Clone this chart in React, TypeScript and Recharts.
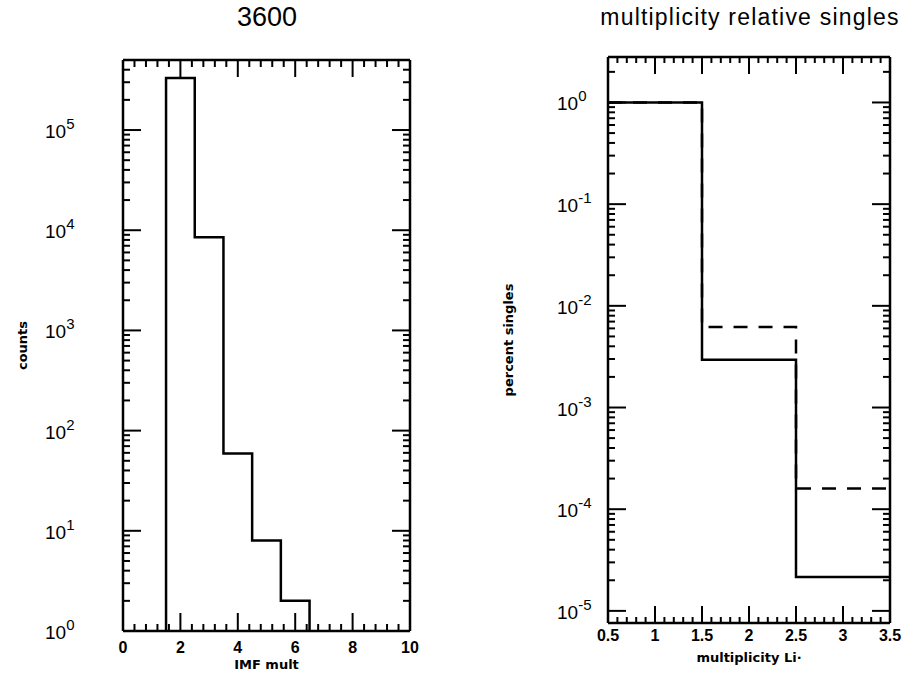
import { LineChart, Line, XAxis, YAxis } from "recharts"

// IMF multiplicity histogram (left panel)
const imfEdges = [1.5, 2.5, 3.5, 4.5, 5.5, 6.5]
const imfCounts = [330000, 8500, 59, 8, 2]

// Li multiplicity relative to singles (right panel)
const liEdges = [0.5, 1.5, 2.5, 3.5]
const liSolid = [1, 0.00295, 0.0000215]
const liDashed = [1, 0.0062, 0.00016]

const imfXMajor = [0, 2, 4, 6, 8, 10]
const liXMajor = [0.5, 1, 1.5, 2, 2.5, 3, 3.5]
const countDecades = [1, 10, 100, 1000, 10000, 100000]
const singlesDecades = [0.00001, 0.0001, 0.001, 0.01, 0.1, 1]

const FONT = "'Liberation Sans', Arial, sans-serif"

const imfData = [
  { x: imfEdges[0], y: 1 },
  ...imfCounts.map((c, i) => ({ x: imfEdges[i], y: c })),
  { x: imfEdges[imfEdges.length - 1], y: 1 },
]

const liData = liEdges.map((x, i) => ({
  x,
  solid: liSolid[Math.min(i, liSolid.length - 1)],
  dashed: liDashed[Math.min(i, liDashed.length - 1)],
}))

function linearTicks(major: number[], sub: number) {
  const out: number[] = []
  for (let i = 0; i < major.length - 1; i++) {
    const step = (major[i + 1] - major[i]) / sub
    for (let k = 0; k < sub; k++) out.push(Math.round((major[i] + k * step) * 1000) / 1000)
  }
  out.push(major[major.length - 1])
  return out
}

function logTicks(decades: number[], max: number) {
  const out: number[] = []
  decades.forEach((d) => {
    for (let m = 1; m <= 9; m++) {
      const v = d * m
      if (v <= max) out.push(v)
    }
  })
  return out
}

const imfXTicks = linearTicks(imfXMajor, 5)
const liXTicks = linearTicks(liXMajor, 5)
const countTicks = logTicks(countDecades, 500000)
const singlesTicks = logTicks(singlesDecades, 2.8)

function XTick(props: any) {
  const { x, y, payload, side, majors, majorLen, minorLen, label, dy } = props
  const v = payload.value
  const major = majors.includes(v)
  const len = major ? majorLen : minorLen
  const dir = side === "bottom" ? -1 : 1
  return (
    <g>
      <line x1={x} y1={y} x2={x} y2={y + dir * len} stroke="#000" strokeWidth={2} />
      {label && major && (
        <text x={x} y={y + dy} textAnchor="middle" fontFamily={FONT} fontWeight="bold" fontSize={16} fill="#000">
          {String(v)}
        </text>
      )}
    </g>
  )
}

function YTick(props: any) {
  const { x, y, payload, side, decades, label, dx } = props
  const v = payload.value
  const major = decades.includes(v)
  const len = major ? 18 : 7
  const dir = side === "left" ? 1 : -1
  const exp = Math.round(Math.log10(v))
  return (
    <g>
      <line x1={x} y1={y} x2={x + dir * len} y2={y} stroke="#000" strokeWidth={2} />
      {label && major && (
        <text x={x - dx} y={y + 8} textAnchor="start" fontFamily={FONT} fontSize={19} fill="#000">
          10
          <tspan dy={-9} fontSize={15}>{exp}</tspan>
        </text>
      )}
    </g>
  )
}

const axisLine = { stroke: "#000", strokeWidth: 2.5 }
const axisTitle = { fontFamily: "'DejaVu Sans'", fontWeight: "bold", fontSize: 13, fill: "#000", textAnchor: "middle" }

function ImfPanel() {
  return (
    <LineChart width={460} height={681} data={imfData} margin={{ top: 59, right: 49, bottom: 0, left: 0 }}>
      <XAxis
        xAxisId="b" dataKey="x" type="number" domain={[0, 10]} ticks={imfXTicks} interval={0}
        allowDataOverflow height={50} tickSize={0} tickMargin={0} tickLine={false} axisLine={axisLine}
        tick={(p: any) => <XTick {...p} side="bottom" majors={imfXMajor} majorLen={18} minorLen={7} label dy={22} />}
        label={{ value: "IMF mult", position: "insideBottom", offset: 12, ...axisTitle }}
      />
      <XAxis
        xAxisId="t" orientation="top" dataKey="x" type="number" domain={[0, 10]} ticks={imfXTicks} interval={0}
        allowDataOverflow height={1} tickSize={0} tickMargin={0} tickLine={false} axisLine={axisLine}
        tick={(p: any) => <XTick {...p} side="top" majors={imfXMajor} majorLen={17} minorLen={7} />}
      />
      <YAxis
        yAxisId="l" type="number" scale="log" domain={[1, 500000]} ticks={countTicks} interval={0}
        allowDataOverflow width={123} tickSize={0} tickMargin={0} tickLine={false} axisLine={axisLine}
        tick={(p: any) => <YTick {...p} side="left" decades={countDecades} label dx={78} />}
        label={{ value: "counts", angle: -90, position: "insideLeft", offset: 22, ...axisTitle }}
      />
      <YAxis
        yAxisId="r" orientation="right" type="number" scale="log" domain={[1, 500000]} ticks={countTicks} interval={0}
        allowDataOverflow width={1} tickSize={0} tickMargin={0} tickLine={false} axisLine={axisLine}
        tick={(p: any) => <YTick {...p} side="right" decades={countDecades} />}
      />
      <Line
        xAxisId="b" yAxisId="l" type="stepAfter" dataKey="y" stroke="#000" strokeWidth={2.5}
        dot={false} isAnimationActive={false}
      />
    </LineChart>
  )
}

function LiPanel() {
  return (
    <LineChart width={457} height={681} data={liData} margin={{ top: 56, right: 26, bottom: 0, left: 0 }}>
      <XAxis
        xAxisId="b" dataKey="x" type="number" domain={[0.5, 3.5]} ticks={liXTicks} interval={0}
        allowDataOverflow height={58} tickSize={0} tickMargin={0} tickLine={false} axisLine={axisLine}
        tick={(p: any) => <XTick {...p} side="bottom" majors={liXMajor} majorLen={17} minorLen={6} label dy={18} />}
        label={{ value: "multiplicity Li\u00b7", position: "insideBottom", offset: 19, ...axisTitle }}
      />
      <XAxis
        xAxisId="t" orientation="top" dataKey="x" type="number" domain={[0.5, 3.5]} ticks={liXTicks} interval={0}
        allowDataOverflow height={1} tickSize={0} tickMargin={0} tickLine={false} axisLine={axisLine}
        tick={(p: any) => <XTick {...p} side="top" majors={liXMajor} majorLen={17} minorLen={6} />}
      />
      <YAxis
        yAxisId="l" type="number" scale="log" domain={[0.0000076, 2.8]} ticks={singlesTicks} interval={0}
        allowDataOverflow width={148} tickSize={0} tickMargin={0} tickLine={false} axisLine={axisLine}
        tick={(p: any) => <YTick {...p} side="left" decades={singlesDecades} label dx={51} />}
        label={{ value: "percent singles", angle: -90, position: "insideLeft", offset: 48, ...axisTitle }}
      />
      <YAxis
        yAxisId="r" orientation="right" type="number" scale="log" domain={[0.0000076, 2.8]} ticks={singlesTicks} interval={0}
        allowDataOverflow width={1} tickSize={0} tickMargin={0} tickLine={false} axisLine={axisLine}
        tick={(p: any) => <YTick {...p} side="right" decades={singlesDecades} />}
      />
      <Line
        xAxisId="b" yAxisId="l" type="stepAfter" dataKey="dashed" stroke="#000" strokeWidth={2.5}
        strokeDasharray="14 11" dot={false} isAnimationActive={false}
      />
      <Line
        xAxisId="b" yAxisId="l" type="stepAfter" dataKey="solid" stroke="#000" strokeWidth={2.5}
        dot={false} isAnimationActive={false}
      />
    </LineChart>
  )
}

export default function App() {
  return (
    <div style={{ position: "absolute", left: 0, top: 0, width: 917, height: 681, background: "#fff" }}>
      <div style={{ position: "absolute", left: 0, top: 0 }}>
        <ImfPanel />
      </div>
      <div style={{ position: "absolute", left: 460, top: 0 }}>
        <LiPanel />
      </div>
      <div style={{ position: "absolute", left: 167, width: 200, top: 2, textAlign: "center", fontFamily: FONT, fontSize: 27 }}>
        3600
      </div>
      <div style={{ position: "absolute", left: 550, width: 400, top: 4, textAlign: "center", fontFamily: FONT, fontSize: 23, letterSpacing: 1.2 }}>
        multiplicity relative singles
      </div>
    </div>
  )
}
